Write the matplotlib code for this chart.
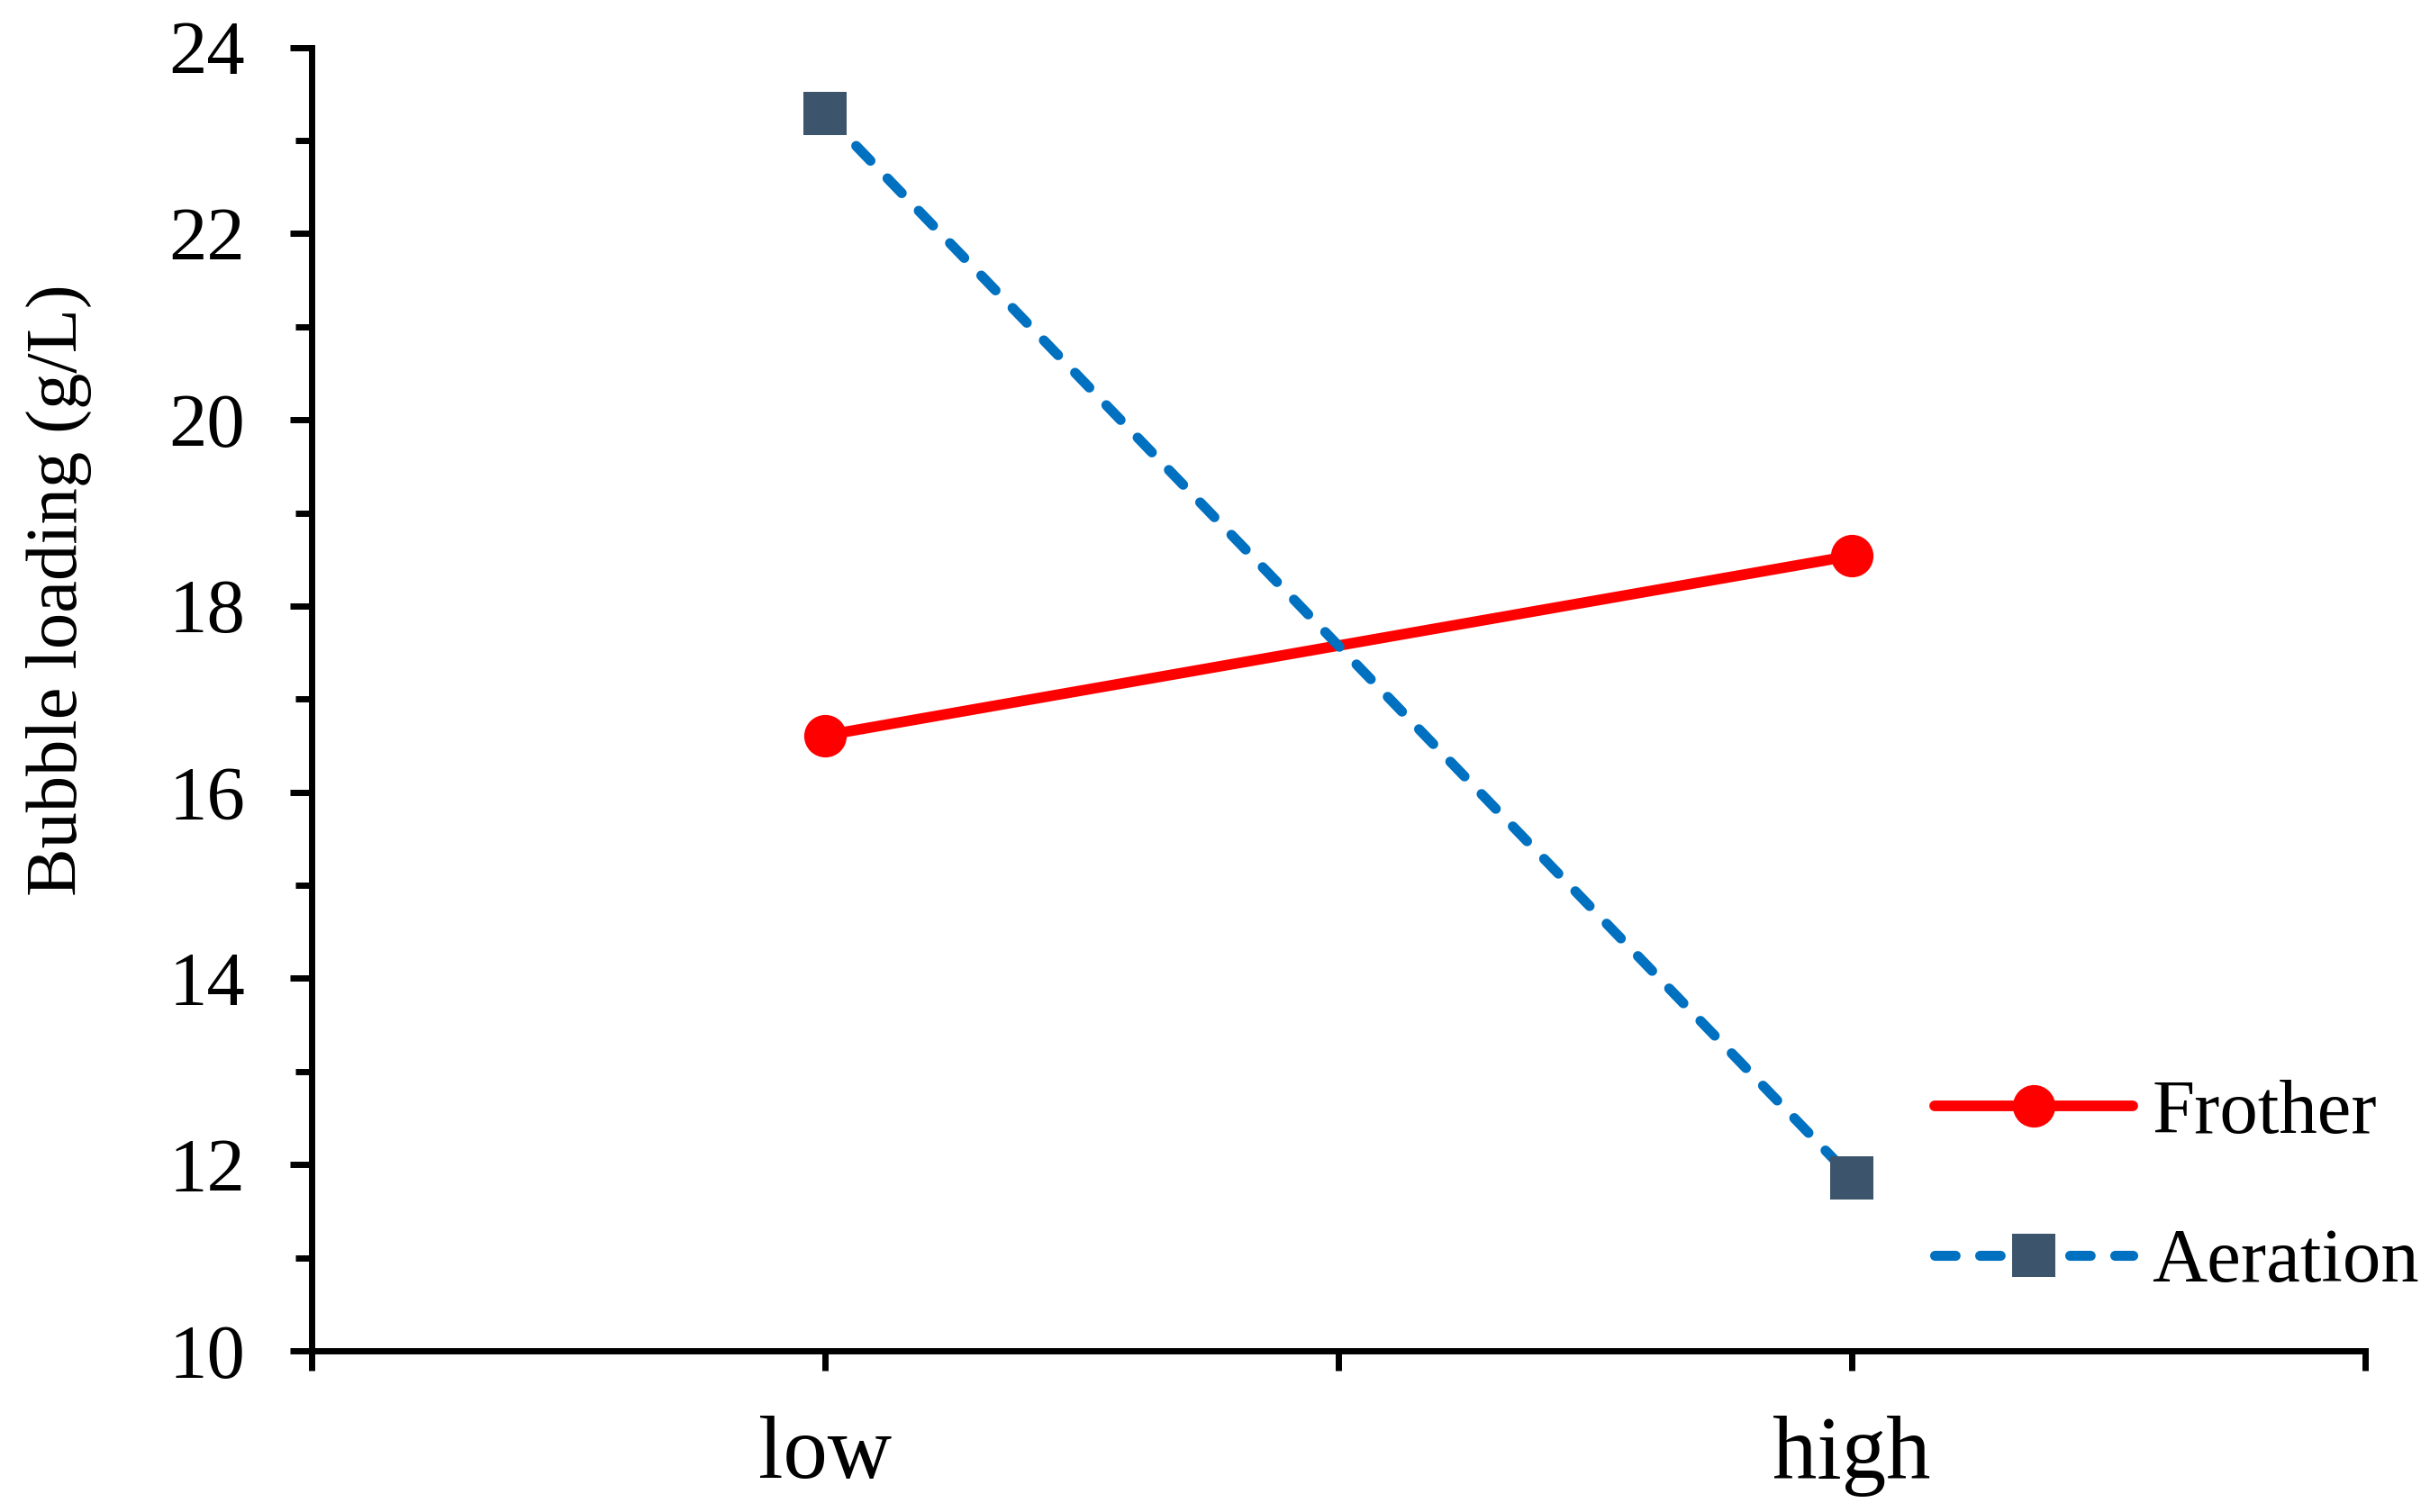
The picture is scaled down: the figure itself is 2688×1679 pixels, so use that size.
import matplotlib
matplotlib.use("Agg")
import matplotlib.pyplot as plt
from matplotlib.ticker import MultipleLocator

plt.rcParams['font.family'] = ['Liberation Serif', 'DejaVu Serif']

categories = ["low", "high"]
frother = [16.61, 18.54]
aeration = [23.29, 11.86]
y_label = "Bubble loading (g/L)"

fig = plt.figure(figsize=(26.88, 16.79), dpi=100)
ax = fig.add_axes([0.1287, 0.10661, 0.8482, 0.862])

xpos = [1, 3]
ax.plot(xpos, frother, color='#FF0000', lw=8.5, marker='o', markersize=34,
        markerfacecolor='#FF0000', markeredgewidth=0, label='Frother',
        solid_capstyle='round', clip_on=False, zorder=3)
ax.plot(xpos, aeration, color='#0070C0', lw=8, linestyle=(0, (2.05, 2.45)),
        dash_capstyle='round', marker='s', markersize=34,
        markerfacecolor='#3C546C', markeredgewidth=0, label='Aeration',
        clip_on=False, zorder=3)

ax.set_xlim(0, 4)
ax.set_ylim(10, 24)
ax.set_xticks([0, 1, 2, 3, 4])
ax.set_xticklabels(["", categories[0], "", categories[1], ""])
ax.yaxis.set_major_locator(MultipleLocator(2))
ax.yaxis.set_minor_locator(MultipleLocator(1))

for s in ['top', 'right']:
    ax.spines[s].set_visible(False)
for s in ['left', 'bottom']:
    ax.spines[s].set_linewidth(5)

ax.tick_params(axis='y', which='major', direction='out', length=17, width=5,
               labelsize=61, pad=36)
ax.tick_params(axis='y', which='minor', direction='out', length=13, width=5)
ax.tick_params(axis='x', which='major', direction='out', length=16, width=5,
               labelsize=71, pad=36)

ax.set_ylabel(y_label, fontsize=58)
ax.yaxis.set_label_coords(-0.107, 0.584)

leg = fig.legend(loc='center left', bbox_to_anchor=(2148 / 2688, 0.2138),
                 frameon=False, fontsize=61, handlelength=2.6,
                 handletextpad=0.25, labelspacing=1.04, borderpad=0,
                 borderaxespad=0)

fig.savefig("out.png", dpi=100)
